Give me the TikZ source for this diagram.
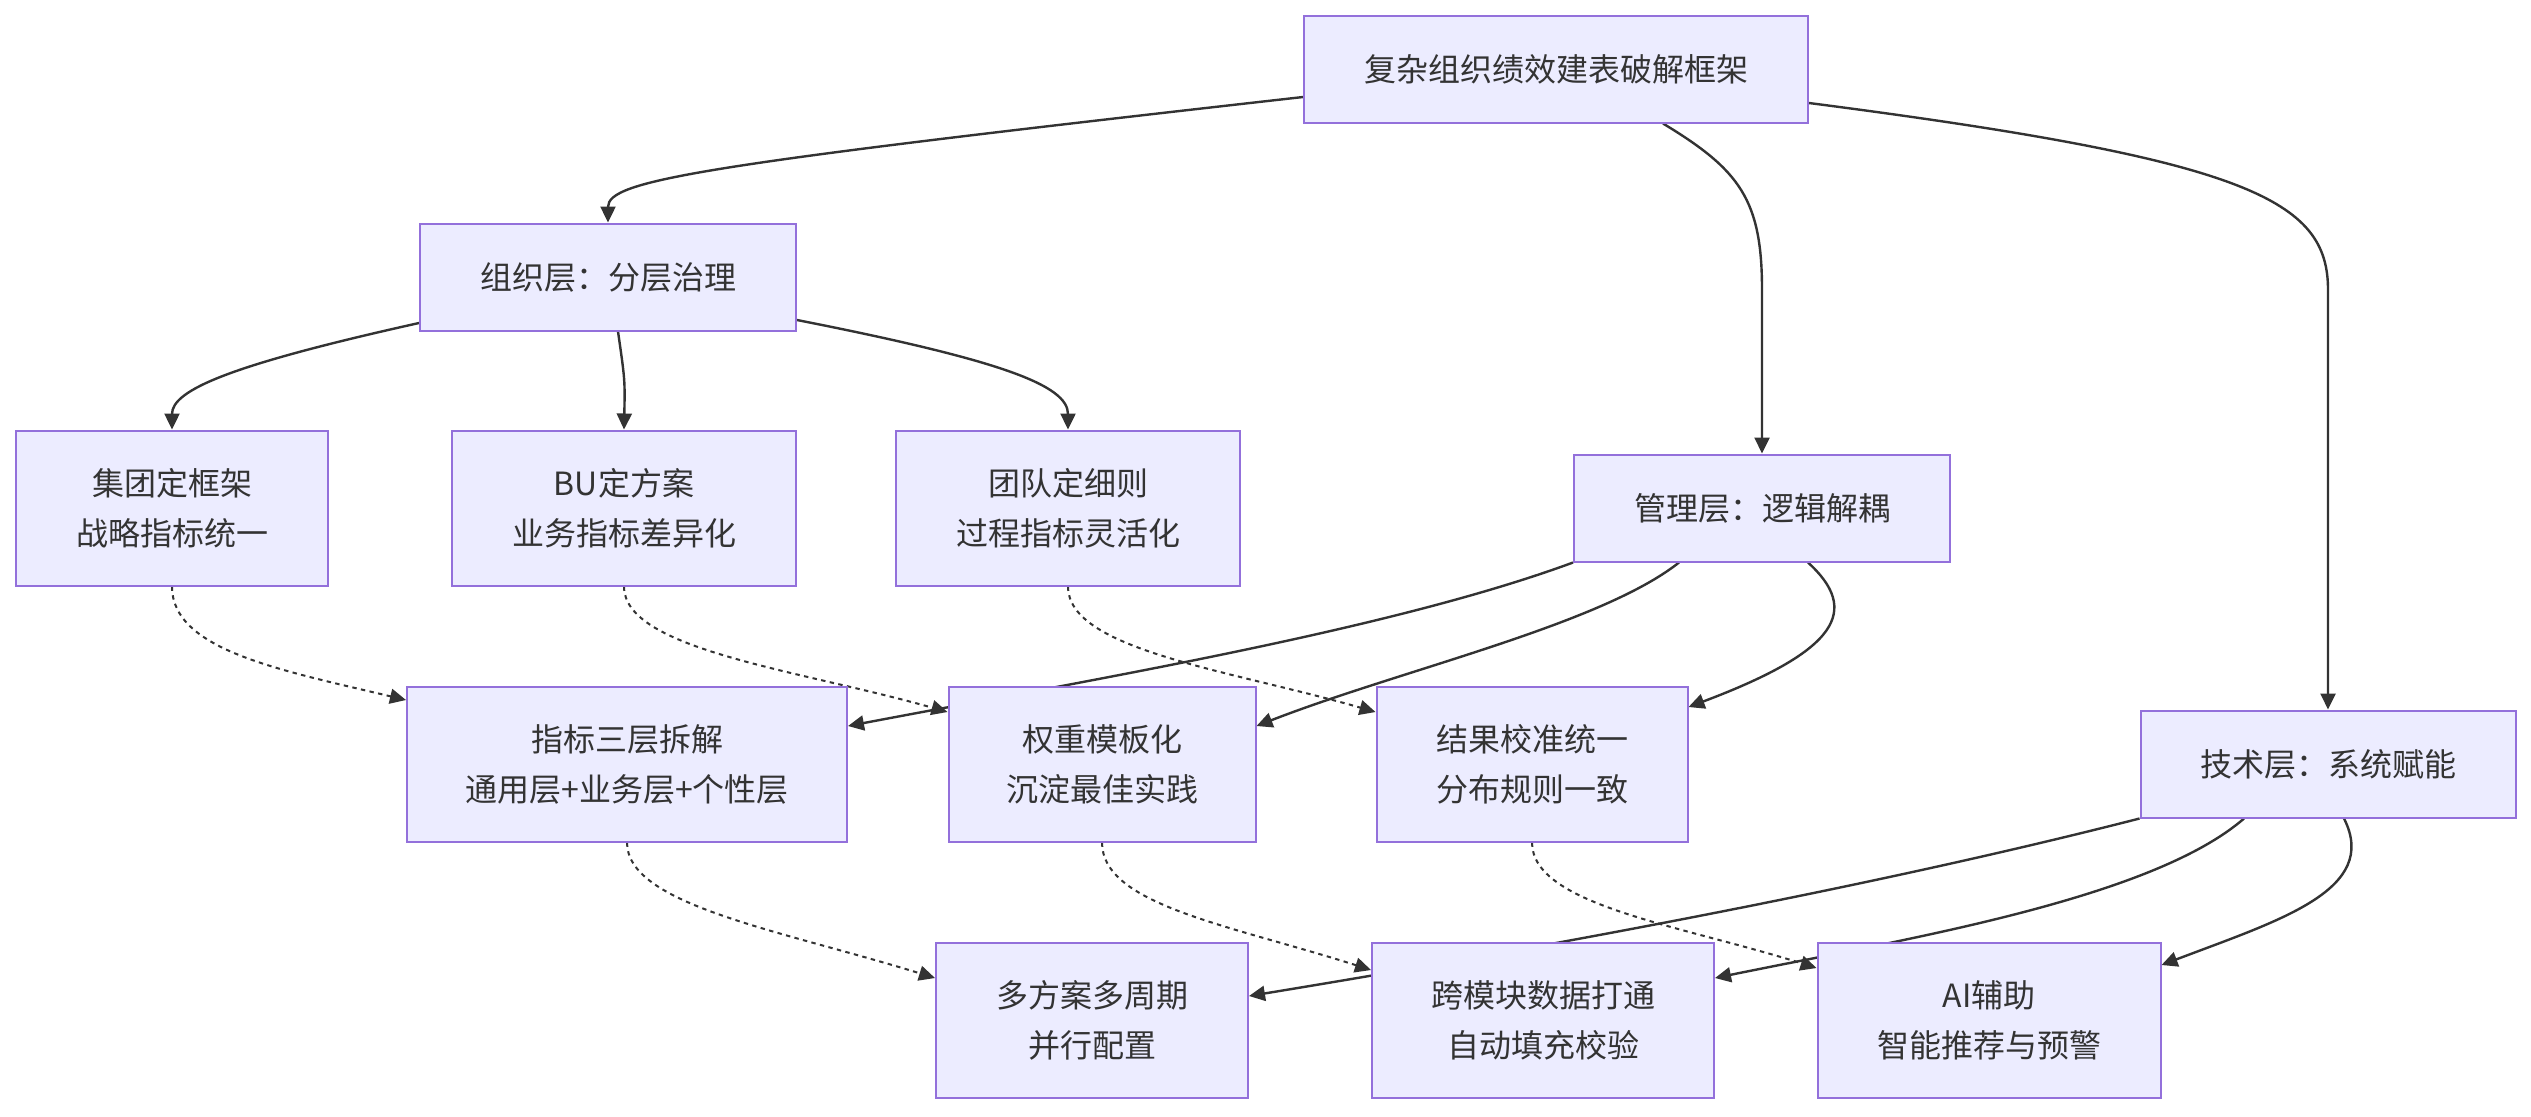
\documentclass[tikz,border=0pt]{standalone}
\usepackage{fontspec}
\setmainfont{Noto Sans CJK SC}
\usetikzlibrary{arrows.meta,calc}
\pgfdeclarelayer{edges}
\pgfsetlayers{edges,main}
\definecolor{boxfill}{HTML}{ECECFF}
\definecolor{boxline}{HTML}{9370DB}
\definecolor{ink}{HTML}{333333}
\tikzset{
  box/.style={draw=boxline, fill=boxfill, line width=1pt, rectangle, align=center,
    text=ink, font=\fontsize{16}{25}\selectfont, inner sep=0pt},
  sbox/.style={box, minimum height=53.5pt},
  tbox/.style={box, minimum height=77.5pt},
  link/.style={draw=ink, line width=1.2pt, -{Triangle[length=8pt,width=7.5pt]}},
  dlink/.style={draw=ink, line width=1pt, dash pattern=on 2.2pt off 2.2pt, -{Triangle[length=8pt,width=7.5pt]}},
}
\begin{document}
\begin{tikzpicture}[x=0.5pt,y=-0.5pt]
\begin{pgfonlayer}{edges}
\useasboundingbox (0,0) rectangle (2531,1116);
\fill[white] (0,0) rectangle (2531,1116);
\end{pgfonlayer}
% nodes
\node[sbox, minimum width=252pt] (top) at (1556,69) {复杂组织绩效建表破解框架};
\node[sbox, minimum width=188pt] (org) at (608,277) {组织层：分层治理};
\node[tbox, minimum width=156pt] (jt) at (172,508) {集团定框架\\战略指标统一};
\node[tbox, minimum width=172pt] (bu) at (624,508) {BU定方案\\业务指标差异化};
\node[tbox, minimum width=172pt] (td) at (1068,508) {团队定细则\\过程指标灵活化};
\node[sbox, minimum width=188pt] (gl) at (1762,508) {管理层：逻辑解耦};
\node[tbox, minimum width=220pt] (zb) at (627,764) {指标三层拆解\\通用层+业务层+个性层};
\node[tbox, minimum width=153.5pt] (qz) at (1102,764) {权重模板化\\沉淀最佳实践};
\node[tbox, minimum width=155.5pt] (jg) at (1532,764) {结果校准统一\\分布规则一致};
\node[sbox, minimum width=187.5pt] (js) at (2328,764) {技术层：系统赋能};
\node[tbox, minimum width=156pt] (dfa) at (1092,1020) {多方案多周期\\并行配置};
\node[tbox, minimum width=171pt] (kmk) at (1543,1020) {跨模块数据打通\\自动填充校验};
\node[tbox, minimum width=171.5pt] (ai) at (1989,1020) {AI辅助\\智能推荐与预警};
\begin{pgfonlayer}{edges}
% solid links from top
\draw[link] ($(top.west)+(0,28)$) .. controls (700,165) and (608,180) .. (org.north);
\draw[link] ($(top.south)+(107,0)$) .. controls (1740,170) and (1762,200) .. (1762,290) -- (gl.north);
\draw[link] ($(top.east)+(0,34)$) .. controls (2250,160) and (2328,200) .. (2328,290) -- (js.north);
% from org
\draw[link] ($(org.west)+(0,46)$) .. controls (230,365) and (172,390) .. (jt.north);
\draw[link] ($(org.south)+(10,0)$) .. controls (625,380) .. (bu.north);
\draw[link] ($(org.east)+(0,43)$) .. controls (1000,360) and (1068,385) .. (td.north);
% from gl
\draw[link] (gl.south west) .. controls (1390,630) and (1090,680) .. ($(zb.east)+(0,-38)$);
\draw[link] ($(gl.south)+(-83,0)$) .. controls (1600,625) and (1400,670) .. ($(qz.east)+(0,-38)$);
\draw[link] ($(gl.south)+(46,0)$) .. controls (1860,610) and (1840,650) .. ($(jg.east)+(0,-57)$);
% dotted
\draw[dlink] (jt.south) .. controls (172,650) and (280,670) .. ($(zb.west)+(0,-64)$);
\draw[dlink] (bu.south) .. controls (624,650) and (800,670) .. ($(qz.west)+(0,-52)$);
\draw[dlink] (td.south) .. controls (1068,650) and (1230,670) .. ($(jg.west)+(0,-52)$);
\draw[dlink] (zb.south) .. controls (627,905) and (780,930) .. ($(dfa.west)+(0,-42)$);
\draw[dlink] (qz.south) .. controls (1102,905) and (1230,925) .. ($(kmk.west)+(0,-50)$);
\draw[dlink] (jg.south) .. controls (1532,905) and (1680,925) .. ($(ai.west)+(0,-52)$);
% from js
\draw[link] (js.south west) .. controls (1880,885) and (1560,945) .. ($(dfa.east)+(0,-24)$);
\draw[link] ($(js.south)+(-84,0)$) .. controls (2150,900) and (1900,940) .. ($(kmk.east)+(0,-42)$);
\draw[link] ($(js.south)+(16,0)$) .. controls (2380,890) and (2280,920) .. ($(ai.east)+(0,-55)$);
\end{pgfonlayer}
\end{tikzpicture}
\end{document}
